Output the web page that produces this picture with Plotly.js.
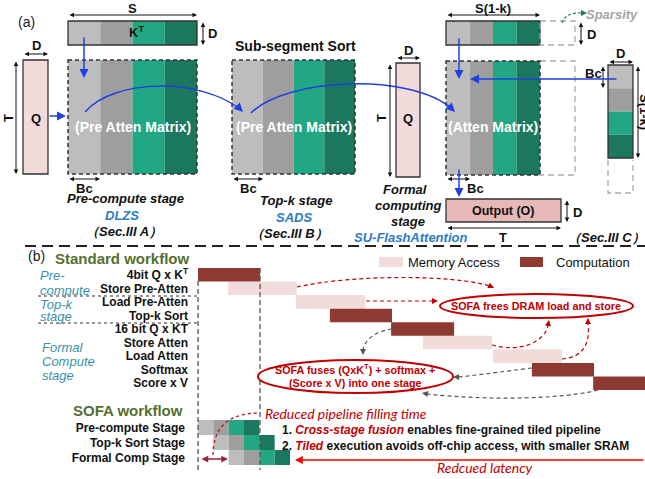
<!DOCTYPE html>
<html><head><meta charset="utf-8">
<script src="https://cdn.plot.ly/plotly-3.0.1.min.js"></script>
<style>html,body{margin:0;padding:0;background:#fff}#c{width:645px;height:479px}</style>
</head><body><div id="c"></div>
<script>
// ---------- DATA ----------
const tasks = ['4bit Q x K<sup>T</sup>','Store Pre-Atten','Load Pre-Atten','Top-k Sort','16 bit Q x KT','Store Atten','Load Atten','Softmax','Score x V'];
const taskType = ['comp','mem','mem','comp','comp','mem','mem','comp','comp'];
const taskStart = [0, 6.7, 21.9, 29.5, 43.2, 50.3, 66.0, 74.7, 88.4];
const taskEnd   = [13.9, 22.1, 37.4, 43.4, 57.3, 65.8, 81.4, 88.6, 102.5];
const sofaStages = ['Pre-compute Stage','Top-k Sort Stage','Formal Comp Stage'];
const sofaOffset = [0, 3.43, 6.86];
const tileWidth = 3.43;
const tileColors = ['#BDBDBD','#9E9E9E','#22A785','#1B785E'];
const segColors = ['#BDBDBD','#9E9E9E','#22A785','#1B785E'];
const legendNames = ['Memory Access','Computation'];

// ---------- STYLE ----------
const F = 'Liberation Sans, Arial, sans-serif';
const FC = 'Lato, Carlito, sans-serif';
const MEM = '#F2DCDB', COMP = '#8E3A33';
const BLUE = '#1F3FE0', BLUE2 = '#2A7CC7', RED = '#C00000', OLIVE = '#56702F', STAGE = '#3A90A8';

const shapes = [];
const ann = [];
function rect(x0,y0,x1,y1,fill,lc,lw,dash){shapes.push({type:'rect',xref:'x',yref:'y',x0,y0,x1,y1,fillcolor:fill||'rgba(0,0,0,0)',line:{color:lc||'rgba(0,0,0,0)',width:lw||0,dash:dash||'solid'}});}
function line(x0,y0,x1,y1,c,w,dash){shapes.push({type:'line',xref:'x',yref:'y',x0,y0,x1,y1,line:{color:c,width:w,dash:dash||'solid'}});}
function path(d,c,w,dash){shapes.push({type:'path',xref:'x',yref:'y',path:d,line:{color:c,width:w,dash:dash||'solid'}});}
function ell(x0,y0,x1,y1,c,w){shapes.push({type:'circle',xref:'x',yref:'y',x0,y0,x1,y1,fillcolor:'#fff',line:{color:c,width:w}});}
function T(x,y,text,size,color,o){ann.push(Object.assign({x,y,xref:'x',yref:'y',text,showarrow:false,font:{family:F,size,color:color||'#111'},xanchor:'center',yanchor:'middle'},o||{}));}
function arrow(x,y,ax,ay,c,w,size){ann.push({x,y,ax,ay,xref:'x',yref:'y',axref:'x',ayref:'y',text:'',showarrow:true,arrowhead:2,arrowsize:size||1,arrowwidth:w,arrowcolor:c,standoff:0,startstandoff:0});}
function dim(x0,y0,x1,y1){ann.push({x:x1,y:y1,ax:x0,ay:y0,xref:'x',yref:'y',axref:'x',ayref:'y',text:'',showarrow:true,arrowside:'end+start',arrowhead:2,startarrowhead:2,arrowsize:0.9,startarrowsize:0.9,arrowwidth:1,arrowcolor:'#111',standoff:0,startstandoff:0});}
function head(x,y,fx,fy,c,w,size){
  const dx=x-fx, dy=y-fy, L=Math.hypot(dx,dy); arrow(x,y,x-dx/L*6,y-dy/L*6,c,w,size);
}
function cols(x0,y0,x1,y1,vertical){
  for(let i=0;i<4;i++){
    if(!vertical){const w=(x1-x0)/4; rect(x0+i*w,y0,x0+(i+1)*w,y1,segColors[i]);}
    else{const h=(y1-y0)/4; rect(x0,y0+i*h,x1,y0+(i+1)*h,segColors[i]);}
  }
}

// ---------- PART (a) ----------
T(26,22,'(a)',14,'#222');
cols(68,21,197,45); rect(68,21,197,45,null,'#333',1.3);
cols(68,60,197,174); rect(68,60,197,174,null,'#333',1.5,'4px,3px');
rect(23,60,48,174,'#F2DCDB','#333',1.3);
dim(68,15,197,15); T(132,8,'<b>S</b>',13);
T(136,32,'<b>K<sup>T</sup></b>',13);
dim(203,21,203,45); T(212,33,'<b>D</b>',13);
dim(23,54,48,54); T(36,45,'<b>D</b>',13);
dim(16,60,16,174); T(8,118,'<b>T</b>',13,'#111',{textangle:-90});
T(36,118,'<b>Q</b>',13);
T(133,127,'<b>(Pre Atten Matrix)</b>',14,'#fff');
dim(68,179,100,179); T(84,188,'<b>Bc</b>',13);
T(125,198,'<b><i>Pre-compute stage</i></b>',13);
T(122,215,'<b><i>DLZS</i></b>',13,BLUE2);
T(124,231,'<b><i>（Sec.III A）</i></b>',13);
arrow(84,78,84,36,BLUE,1.5,1.2);
arrow(66,116,48,116,BLUE,1.5,1.2);

T(295,46,'<b>Sub-segment Sort</b>',14);
cols(232,60,355,174); rect(232,60,355,174,null,'#333',1.5,'4px,3px');
T(294,127,'<b>(Pre Atten Matrix)</b>',14,'#fff');
dim(232,179,263,179); T(248,188,'<b>Bc</b>',13);
T(296,200,'<b><i>Top-k stage</i></b>',13);
T(294,217,'<b><i>SADS</i></b>',13,BLUE2);
T(289,233,'<b><i>（Sec.III B）</i></b>',13);

rect(396,63,420,177,'#F2DCDB','#333',1.3);
dim(396,58,420,58); T(408,50,'<b>D</b>',13);
dim(390,63,390,177); T(381,118,'<b>T</b>',13,'#111',{textangle:-90});
T(408,118,'<b>Q</b>',13);
T(405,189,'<b><i>Formal</i></b>',13);
T(408,205,'<b><i>computing</i></b>',13);
T(408,221,'<b><i>stage</i></b>',13);
T(410,237,'<b><i>SU-FlashAttention</i></b>',13,BLUE2);

cols(446,21,540,45); rect(446,21,540,45,null,'#333',1.3);
rect(540,21,575,45,null,'#AAAAAA',1.3,'6px,4px');
dim(446,15,540,15); T(493,8,'<b>S(1-k)</b>',13);
T(612,14,'<b><i>Sparsity</i></b>',13,'#A6A6A6');
path('M562,23 Q566,12 583,13','#1E7B64',1.2,'3px,2px'); head(587,13,583,13,'#1E7B64',1.2,1);
dim(581,21,581,45); T(591,34,'<b>D</b>',13);
cols(446,61,540,175); rect(540,61,575,175,null,'#AAAAAA',1.3,'6px,4px');
rect(446,61,540,175,null,'#333',1.5,'4px,3px');
T(493,127,'<b>(Atten Matrix)</b>',14,'#fff');
dim(446,179,470,179); T(475,188,'<b>Bc</b>',13);
arrow(459,79,459,37,BLUE,1.5,1.2);
arrow(459,197,459,168,BLUE,1.5,1.2);
rect(446,199,561,222,'#E6B9B8','#333',1.3);
T(503,211,'<b>Output (O)</b>',12.5);
dim(446,228,561,228); T(503,237,'<b>T</b>',13);
dim(567,199,567,222); T(577,212,'<b>D</b>',13);
T(606,237,'<b><i>（Sec.III C）</i></b>',13);

cols(608,65,633,158,true); rect(608,65,633,158,null,'#333',1.3);
path('M608,160 L608,193 L633,193 L633,160','#AAAAAA',1.3,'6px,4px');
dim(608,62,633,62); T(620,53,'<b>D</b>',13);
dim(603,65,603,88); T(593,73,'<b>Bc</b>',13);
dim(638,65,638,158); T(645,112,'<b>S(1-k)</b>',13,'#111',{textangle:90});
arrow(470,79,618,79,BLUE,1.5,1.2);

path('M85,112 C115,78 200,78 240,109',BLUE,1.5); head(243,112,236,105,BLUE,1.5,1.2);
path('M251,113 C285,78 410,72 452,109',BLUE,1.5); head(455,112,448,105,BLUE,1.5,1.2);

line(25,246,645,246,'#222',2,'11px,6px');

// ---------- PART (b) ----------
T(36,256,'(b)',14,'#222');
T(53,258,'<b>Standard workflow</b>',15,OLIVE,{xanchor:'left'});
const stageLbl=[['Pre-',38,275],['compute',38,290],['Top-k',38,304],['stage',38,316],['Formal',40,347],['Compute',40,361],['stage',40,375]];
stageLbl.forEach(s=>T(s[1],s[2],'<i>'+s[0]+'</i>',13,STAGE,{xanchor:'left'}));
line(38,296,198,296,'#333',1,'dot');
line(38,323,198,323,'#333',1,'dot');
line(198,281,198,470,'#555',1.3,'5px,3px');
line(260,268,260,470,'#555',1.3,'5px,3px');

rect(379,257,403,267,MEM); T(406,262,legendNames[0],13,'#111',{xanchor:'left'});
rect(520,257,543,267,COMP); T(554,262,legendNames[1],13,'#111',{xanchor:'left'});

ell(440,294,633,318,RED,2);
T(536,306,'<b>SOFA frees DRAM load and store</b>',10.8,RED);
ell(258,360,453,393,RED,2);
T(355,369,'<b>SOFA fuses (QxK<sup>T</sup>) + softmax +</b>',10.8,RED);
T(355,383,'<b>(Score x V) into one stage</b>',10.8,RED);

path('M297,287 C350,275 450,274 490,286',RED,1.2,'4px,3px'); head(494,288,488,285,RED,1.2,1);
path('M366,301 L433,301',RED,1.2,'4px,3px'); head(438,301,432,301,RED,1.2,1);
path('M492,345 C520,353 545,342 548,325',RED,1.2,'4px,3px'); head(549,320,548,326,RED,1.2,1);
path('M562,359 C585,357 590,342 588,323',RED,1.2,'4px,3px'); head(588,318,588,324,RED,1.2,1);
path('M392,329 C372,332 364,342 363,350','#555',1.2,'4px,3px'); head(363,355,363,349,'#555',1.2,1);
path('M532,368 C500,372 470,376 458,377','#555',1.2,'4px,3px'); head(453,377,459,377,'#555',1.2,1);
path('M598,390 C560,400 480,400 427,394','#555',1.2,'4px,3px'); head(422,393,428,394,'#555',1.2,1);

T(185,410,'<b>SOFA workflow</b>',15,OLIVE,{xanchor:'right'});
T(263,413,'<i>Reduced pipeline filling time</i>',14,RED,{xanchor:'left',font:{family:FC,size:14,color:RED}});
path('M213,455 Q213,413 260,413',RED,1.2,'dot');
dim(200,459,228,459); ann[ann.length-1].arrowcolor='#A0203A'; ann[ann.length-1].arrowwidth=1.5;
T(280,430,'<b>1. <i><span style="color:'+RED+'">Cross-stage fusion</span></i> enables fine-grained tiled pipeline</b>',12,'#111',{xanchor:'left'});
T(280,446,'<b>2. <i><span style="color:'+RED+'">Tiled</span></i> execution avoids off-chip access, with smaller SRAM</b>',12,'#111',{xanchor:'left'});
arrow(295,460,645,460,'#FF0000',1.3,1.2);
T(435,467,'<i>Redcued latency</i>',14,RED,{xanchor:'left',font:{family:FC,size:14,color:RED}});

// ---------- TRACES ----------
const data = [{x:[0],y:[0],xaxis:'x',yaxis:'y',mode:'markers',marker:{opacity:0},hoverinfo:'skip',showlegend:false}];
function gantt(type,color,name){
  const idx=taskType.map((t,i)=>t===type?i:-1).filter(i=>i>=0);
  data.push({type:'bar',orientation:'h',name,xaxis:'x2',yaxis:'y2',y:idx,base:idx.map(i=>taskStart[i]),x:idx.map(i=>taskEnd[i]-taskStart[i]),width:idx.map(()=>1),marker:{color,line:{width:0}},hoverinfo:'skip',showlegend:false});
}
gantt('mem',MEM,legendNames[0]);
gantt('comp',COMP,legendNames[1]);
tileColors.forEach((c,k)=>{
  data.push({type:'bar',orientation:'h',xaxis:'x2',yaxis:'y3',y:[0,1,2],base:sofaOffset.map(o=>o+k*tileWidth),x:sofaOffset.map(()=>tileWidth),width:[1,1,1],marker:{color:c,line:{width:0}},hoverinfo:'skip',showlegend:false});
});

const layout = {
  width:645,height:479,margin:{l:0,r:0,t:0,b:0},paper_bgcolor:'#fff',plot_bgcolor:'rgba(0,0,0,0)',
  showlegend:false,barmode:'overlay',
  xaxis:{range:[0,645],domain:[0,1],visible:false,fixedrange:true},
  yaxis:{range:[479,0],domain:[0,1],visible:false,fixedrange:true},
  xaxis2:{range:[0,100],domain:[198/645,1],anchor:'y2',visible:false,fixedrange:true},
  yaxis2:{range:[8.5,-0.5],domain:[1-390/479,1-268/479],anchor:'x2',tickvals:tasks.map((t,i)=>i),ticktext:tasks,showgrid:false,zeroline:false,showline:false,ticks:'',ticklabelstandoff:9,tickfont:{family:F,size:12,color:'#111',weight:'bold'},fixedrange:true},
  yaxis3:{range:[2.5,-0.5],domain:[1-465/479,1-420/479],anchor:'x2',tickvals:[0,1,2],ticktext:sofaStages,showgrid:false,zeroline:false,showline:false,ticks:'',ticklabelstandoff:12,tickfont:{family:F,size:12,color:'#111',weight:'bold'},fixedrange:true},
  shapes, annotations:ann
};
Plotly.newPlot('c',data,layout,{staticPlot:true,displayModeBar:false});
</script></body></html>
